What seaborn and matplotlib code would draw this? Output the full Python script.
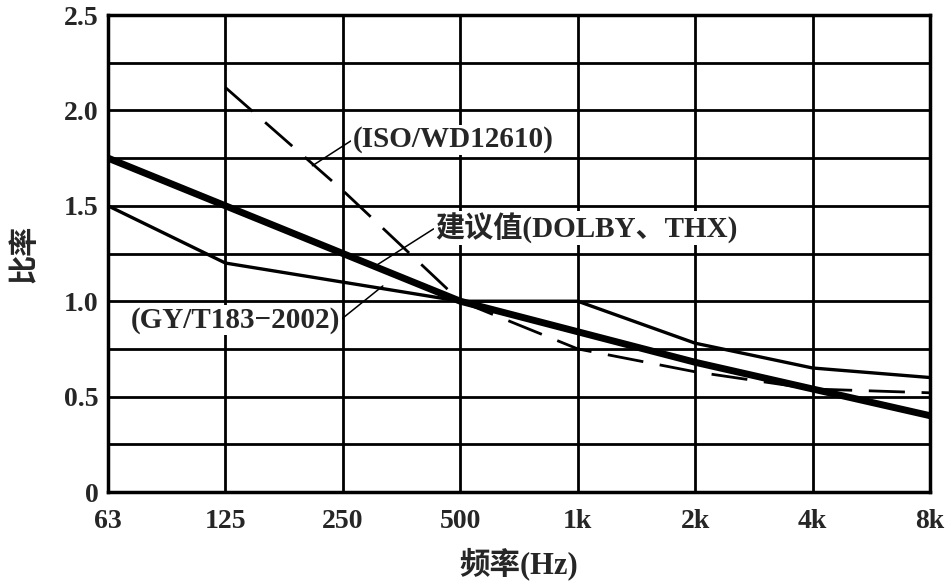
import numpy as np
import pandas as pd
import seaborn as sns
import matplotlib.pyplot as plt
from matplotlib.ticker import MultipleLocator

# chart data
freqs = ["63", "125", "250", "500", "1k", "2k", "4k", "8k"]
dolby_thx = [1.75, 1.50, 1.25, 1.00, 0.84, 0.68, 0.54, 0.40]
gy_t183 = [1.50, 1.20, 1.10, 1.00, 1.00, 0.78, 0.65, 0.60]
iso_wd = [np.nan, 2.12, 1.58, 1.00, 0.75, 0.63, 0.54, 0.52]
y_ticks = [0, 0.5, 1.0, 1.5, 2.0, 2.5]
y_ticklabels = ["0", "0.5", "1.0", "1.5", "2.0", "2.5"]

serif_cjk = ["Liberation Serif", "Noto Sans CJK SC"]

sns.set_style("white")
plt.rcParams["font.family"] = serif_cjk

df = pd.DataFrame({
    "pos": np.arange(len(freqs)),
    "dolby": dolby_thx,
    "gy": gy_t183,
    "iso": iso_wd,
})

fig = plt.figure(figsize=(9.5, 5.82), dpi=100)
ax = fig.add_axes([0.1137, 0.1546, 0.8653, 0.8196])

sns.lineplot(data=df, x="pos", y="gy", ax=ax, color="black", lw=2.4)
sns.lineplot(data=df.dropna(), x="pos", y="iso", ax=ax, color="black", lw=2.0)
ax.lines[-1].set_dashes((13, 6))
sns.lineplot(data=df, x="pos", y="dolby", ax=ax, color="black", lw=5.0)

ax.set_xlim(0, len(freqs) - 1)
ax.set_ylim(0, 2.5)
ax.set_xticks(df["pos"])
ax.set_xticklabels(freqs, fontweight="bold")
ax.set_yticks(y_ticks)
ax.set_yticklabels(y_ticklabels, fontweight="bold")
ax.yaxis.set_minor_locator(MultipleLocator(0.25))
ax.grid(True, which="both", color="black", lw=2.0)
ax.tick_params(which="both", length=0, labelsize=20)
ax.tick_params(axis="x", pad=12)
ax.tick_params(axis="y", pad=7)
for s in ax.spines.values():
    s.set_color("black")
    s.set_linewidth(2.5)
ax.set_axisbelow(True)

ax.set_xlabel("频率(Hz)", fontsize=22, fontweight="bold", labelpad=10,
              family=serif_cjk)
ax.set_ylabel("比率", fontsize=21, fontweight="bold", labelpad=18,
              family=serif_cjk)

box = dict(facecolor="white", edgecolor="none", pad=1)
arrow = dict(arrowstyle="-", color="black", lw=1.1, shrinkA=0, shrinkB=0)

ax.annotate("(ISO/WD12610)", xy=(1.74, 1.71), xytext=(2.08, 1.845),
            ha="left", va="center", fontsize=21, fontweight="bold", bbox=box,
            arrowprops=dict(arrow, relpos=(0, 0.5)))
ax.annotate("建议值(DOLBY、THX)", xy=(2.29, 1.19), xytext=(2.785, 1.384),
            ha="left", va="center", fontsize=21, fontweight="bold", bbox=box,
            arrowprops=dict(arrow, relpos=(0, 0.5)))
ax.annotate("(GY/T183−2002)", xy=(2.34, 1.08), xytext=(1.976, 0.90),
            ha="right", va="center", fontsize=21, fontweight="bold", bbox=box,
            arrowprops=dict(arrow, relpos=(1, 0.5)))

fig.savefig("out.png", dpi=100)
